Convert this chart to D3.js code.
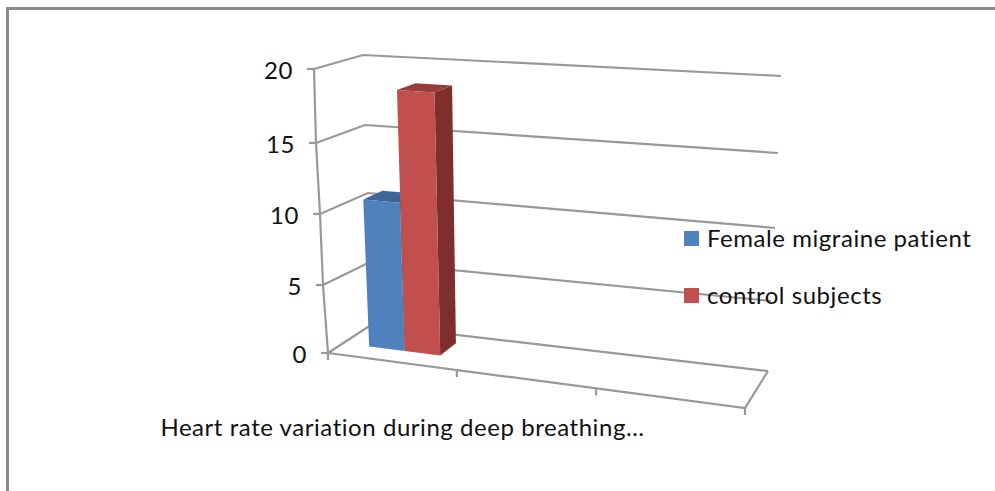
<!DOCTYPE html>
<html lang="en">
<head>
    <meta charset="UTF-8">
    <title>Heart rate variation 3D bar chart</title>
    <script src="https://d3js.org/d3.v7.min.js"></script>
    <style>
        html, body { margin: 0; padding: 0; background: #fff; }
        svg { display: block; }
        text { font-family: Lato, "Open Sans", sans-serif; font-size: 24px; letter-spacing: 0.55px; fill: #111; }
    </style>
</head>
<body>
    <svg width="995" height="491"></svg>
    <script>
        // Chart data
        var categories = ["Heart rate variation during deep breathing…", "cat2", "cat3"];
        var seriesNames = ["Female migraine patient", "control subjects"];
        var femaleValues = [10.7, null, null];
        var controlValues = [18.5, null, null];
        var valueTicks = [0, 5, 10, 15, 20];

        var seriesValues = [femaleValues, controlValues];
        var seriesColors = [
            { front: "#4f81bd", top: "#3c6595", side: "#36597f" },
            { front: "#c0504d", top: "#953c3a", side: "#7f2f2d" }
        ];

        var svg = d3.select("svg");

        // Slight softening, the reference is a scaled bitmap
        svg.append("defs").append("filter")
            .attr("id", "soft")
            .append("feGaussianBlur")
            .attr("stdDeviation", 0.4);

        // The four vertical edges of the 3D box, each one its own scale
        function edge(xs, ys) {
            return {
                x: d3.scaleLinear().domain(valueTicks).range(xs),
                y: d3.scaleLinear().domain(valueTicks).range(ys)
            };
        }
        var frontLeft = edge([328, 323, 320, 316, 314], [353, 285, 214, 143, 69]);
        var backLeft = edge([371, 370, 368, 365, 363], [325, 262, 193, 125, 55]);
        var backRight = edge([768, 771, 775, 778, 781], [371, 301, 228, 153, 76]);
        var frontRight = edge([745, 748, 751, 755, 759], [408, 332, 258, 178, 97]);

        var mix = d3.interpolateNumber;

        // u = along the category axis, d = depth, v = value
        function project(u, d, v) {
            var fx = mix(frontLeft.x(v), frontRight.x(v))(u),
                fy = mix(frontLeft.y(v), frontRight.y(v))(u),
                bx = mix(backLeft.x(v), backRight.x(v))(u),
                by = mix(backLeft.y(v), backRight.y(v))(u);
            return [mix(fx, bx)(d), mix(fy, by)(d)];
        }

        // Category position, slightly uneven because of the perspective
        var catScale = d3.scaleLinear()
            .domain(d3.range(categories.length + 1))
            .range([0, 0.309, 0.643, 1]);

        // Bars inside the first category
        var seriesScale = d3.scaleBand()
            .domain(seriesNames)
            .range([catScale(0.206), catScale(0.767)]);

        var depthFront = 0.35, depthBack = 0.76;
        var line = d3.line();
        var axisColor = "#989898";

        // Outer chart frame
        svg.append("path")
            .attr("d", line([[7.5, 491], [7.5, 8.5], [995, 8.5]]))
            .attr("fill", "none")
            .attr("stroke", "#8a8a8a")
            .attr("stroke-width", 3);

        var plot = svg.append("g").attr("filter", "url(#soft)");

        // Gridlines on side wall and back wall
        plot.selectAll(".grid")
            .data(valueTicks)
            .enter().append("path")
            .attr("class", "grid")
            .attr("d", function(v) {
                return line([project(0, 0, v), project(0, 1, v), project(1, 1, v)]);
            })
            .attr("fill", "none")
            .attr("stroke", axisColor)
            .attr("stroke-width", 2.2);

        // Floor edges
        plot.append("path")
            .attr("d", line([project(0, 0, 0), project(1, 0, 0), project(1, 1, 0)]))
            .attr("fill", "none")
            .attr("stroke", axisColor)
            .attr("stroke-width", 2.2);

        // Value axis
        plot.append("path")
            .attr("d", line(valueTicks.map(function(v) { return project(0, 0, v); })))
            .attr("fill", "none")
            .attr("stroke", axisColor)
            .attr("stroke-width", 2.2);

        plot.selectAll(".vtick")
            .data(valueTicks)
            .enter().append("path")
            .attr("class", "vtick")
            .attr("d", function(v) {
                var p = project(0, 0, v);
                return line([[p[0] - 7, p[1]], p]);
            })
            .attr("stroke", axisColor)
            .attr("stroke-width", 2.2);

        svg.selectAll(".vlabel")
            .data(valueTicks)
            .enter().append("text")
            .attr("class", "vlabel")
            .attr("text-anchor", "end")
            .attr("x", function(v) { return project(0, 0, v)[0] - 21; })
            .attr("y", function(v) { return project(0, 0, v)[1] + 10; })
            .text(function(v) { return v; });

        // Category ticks
        plot.selectAll(".ctick")
            .data(d3.range(categories.length + 1))
            .enter().append("path")
            .attr("class", "ctick")
            .attr("d", function(i) {
                var p = project(catScale(i), 0, 0);
                return line([p, [p[0], p[1] + 7]]);
            })
            .attr("stroke", axisColor)
            .attr("stroke-width", 2.2);

        svg.append("text")
            .attr("text-anchor", "middle")
            .attr("x", project(catScale(0.5), 0, 0)[0] + 10)
            .attr("y", 436)
            .text(categories[0]);

        // Bars
        seriesNames.forEach(function(name, s) {
            var color = seriesColors[s];
            seriesValues[s].forEach(function(value, i) {
                if (value === null) return;
                var u0 = seriesScale(name),
                    u1 = u0 + seriesScale.bandwidth();
                var g = plot.append("g").attr("class", "bar");
                g.append("path")
                    .attr("fill", color.side)
                    .attr("d", line([
                        project(u1, depthFront, 0), project(u1, depthBack, 0),
                        project(u1, depthBack, value), project(u1, depthFront, value)
                    ]) + "Z");
                g.append("path")
                    .attr("fill", color.top)
                    .attr("d", line([
                        project(u0, depthFront, value), project(u1, depthFront, value),
                        project(u1, depthBack, value), project(u0, depthBack, value)
                    ]) + "Z");
                g.append("path")
                    .attr("fill", color.front)
                    .attr("d", line([
                        project(u0, depthFront, 0), project(u1, depthFront, 0),
                        project(u1, depthFront, value), project(u0, depthFront, value)
                    ]) + "Z");
            });
        });

        // Legend
        var legend = svg.selectAll(".legend")
            .data(seriesNames)
            .enter().append("g")
            .attr("class", "legend");

        var legendY = d3.scalePoint().domain(seriesNames).range([231, 288]);

        legend.append("rect")
            .attr("x", 684)
            .attr("y", function(d) { return legendY(d); })
            .attr("width", 15)
            .attr("height", 15)
            .attr("fill", function(d, i) { return seriesColors[i].front; });

        legend.append("text")
            .attr("x", 707)
            .attr("y", function(d) { return legendY(d) + 16; })
            .text(function(d) { return d; });
    </script>
</body>
</html>
